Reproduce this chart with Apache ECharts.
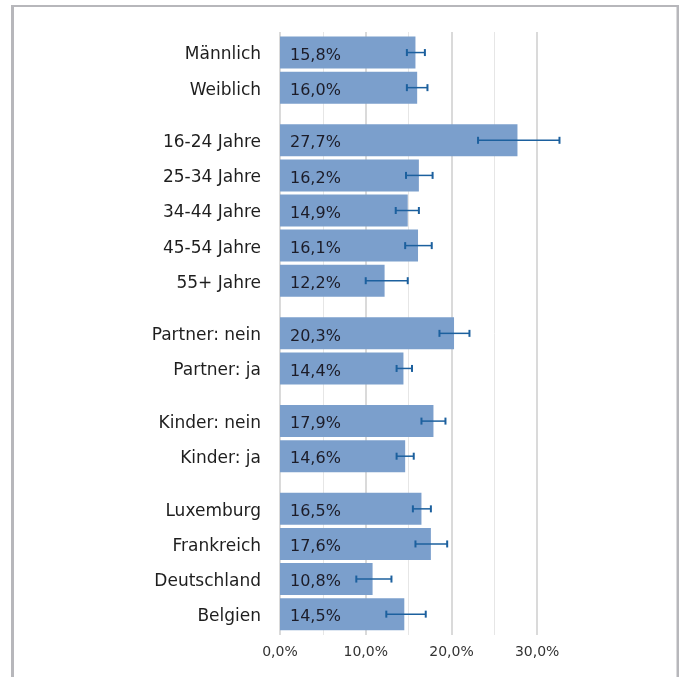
<!DOCTYPE html>
<html>
<head>
<meta charset="utf-8">
<script src="https://cdn.jsdelivr.net/npm/echarts@6/dist/echarts.min.js"></script>
<style>
  html, body { margin: 0; padding: 0; background: #fff; }
  #main { width: 682px; height: 677px; }
</style>
</head>
<body>
<div id="main"></div>
<script>
// Rows, top to bottom
const categories = [
  "Männlich", "Weiblich",
  "16-24 Jahre", "25-34 Jahre", "34-44 Jahre", "45-54 Jahre", "55+ Jahre",
  "Partner: nein", "Partner: ja",
  "Kinder: nein", "Kinder: ja",
  "Luxemburg", "Frankreich", "Deutschland", "Belgien"
];
const groupSizes = [2, 5, 2, 2, 4];
const values = [15.8, 16.0, 27.7, 16.2, 14.9, 16.1, 12.2, 20.3, 14.4, 17.9, 14.6, 16.5, 17.6, 10.8, 14.5];
const errLow = [14.8, 14.8, 23.1, 14.7, 13.5, 14.6, 10.0, 18.6, 13.6, 16.5, 13.6, 15.5, 15.8, 8.9, 12.4];
const errHigh = [16.9, 17.2, 32.6, 17.8, 16.2, 17.7, 14.9, 22.1, 15.4, 19.3, 15.6, 17.6, 19.5, 13.0, 17.0];
const tickValues = [0, 10, 20, 30];

const FONT = "DejaVu Sans";
const LEFT = 280;
const PX = 8.573;      // pixels per percent
const TOP = 35;
const ROW = 35.1;      // row pitch
const BAR_COLOR = "#7b9fcc";
const ERR_COLOR = "#1c609e";

const fmt = (v) => v.toFixed(1).replace(".", ",") + "%";

var myChart = echarts.init(document.getElementById("main"));

var grids = [];
var xAxes = [];
var yAxes = [];
var series = [];

// background grid with major lines + tick labels
grids.push({ left: LEFT, top: 32, width: 30 * PX, height: 603 });
xAxes.push({
  gridIndex: 0, type: "value", min: 0, max: 30, interval: 10,
  axisLine: { show: false }, axisTick: { show: false },
  splitLine: { show: true, lineStyle: { color: "#dadada", width: 2 } },
  axisLabel: {
    margin: 10, fontFamily: FONT, fontSize: 14, color: "#333",
    formatter: (v) => (tickValues.indexOf(v) >= 0 ? fmt(v) : "")
  }
});
yAxes.push({ gridIndex: 0, type: "value", show: false });

// minor lines at 5, 15, 25
grids.push({ left: LEFT + 5 * PX, top: 32, width: 20 * PX, height: 603 });
xAxes.push({
  gridIndex: 1, type: "value", min: 5, max: 25, interval: 10,
  axisLine: { show: false }, axisTick: { show: false }, axisLabel: { show: false },
  splitLine: { show: true, lineStyle: { color: "#e6e6e6", width: 1 } }
});
yAxes.push({ gridIndex: 1, type: "value", show: false });

// one grid per group of rows
let start = 0;
groupSizes.forEach((n, g) => {
  const gi = grids.length;
  const cats = categories.slice(start, start + n);
  grids.push({
    left: LEFT,
    top: TOP + (start + g * 0.5) * ROW,
    width: 35 * PX,
    height: n * ROW
  });
  xAxes.push({ gridIndex: gi, type: "value", min: 0, max: 35, show: false, splitLine: { show: false } });
  yAxes.push({
    gridIndex: gi, type: "category", inverse: true, data: cats,
    axisLine: { show: false }, axisTick: { show: false },
    axisLabel: {
      margin: 19,
      formatter: (v) => "{c|" + v + "}",
      rich: { c: { padding: [5, 0, 0, 0], fontFamily: FONT, fontSize: 17, color: "#1e1e1e" } }
    }
  });
  series.push({
    type: "bar",
    xAxisIndex: gi, yAxisIndex: gi,
    data: values.slice(start, start + n),
    barWidth: 32,
    itemStyle: { color: BAR_COLOR },
    label: {
      show: true, position: "insideLeft", distance: 10, offset: [0, 3],
      fontFamily: FONT, fontSize: 16, color: "#1c1c28",
      formatter: (p) => fmt(p.value)
    },
    emphasis: { disabled: true }
  });
  series.push({
    type: "custom",
    xAxisIndex: gi, yAxisIndex: gi,
    data: cats.map((c, i) => [errLow[start + i], errHigh[start + i], i]),
    encode: { x: [0, 1], y: 2 },
    renderItem: function (params, api) {
      const a = api.coord([api.value(0), api.value(2)]);
      const b = api.coord([api.value(1), api.value(2)]);
      const h = 3.5;
      const st = { stroke: ERR_COLOR, lineWidth: 1.5 };
      return {
        type: "group",
        children: [
          { type: "line", shape: { x1: a[0], y1: a[1], x2: b[0], y2: b[1] }, style: st },
          { type: "line", shape: { x1: a[0], y1: a[1] - h, x2: a[0], y2: a[1] + h }, style: { stroke: ERR_COLOR, lineWidth: 2 } },
          { type: "line", shape: { x1: b[0], y1: b[1] - h, x2: b[0], y2: b[1] + h }, style: { stroke: ERR_COLOR, lineWidth: 2 } }
        ]
      };
    },
    z: 3
  });
  start += n;
});

var option = {
  animation: false,
  backgroundColor: "#fff",
  grid: grids,
  xAxis: xAxes,
  yAxis: yAxes,
  series: series,
  graphic: [
    { type: "rect", shape: { x: 11, y: 5, width: 3, height: 672 }, style: { fill: "#b7b7bb" } },
    { type: "rect", shape: { x: 11, y: 5, width: 668, height: 2 }, style: { fill: "#b7b7bb" } },
    { type: "rect", shape: { x: 676.5, y: 5, width: 2.5, height: 672 }, style: { fill: "#b7b7bb" } }
  ]
};

option && myChart.setOption(option);
</script>
</body>
</html>
